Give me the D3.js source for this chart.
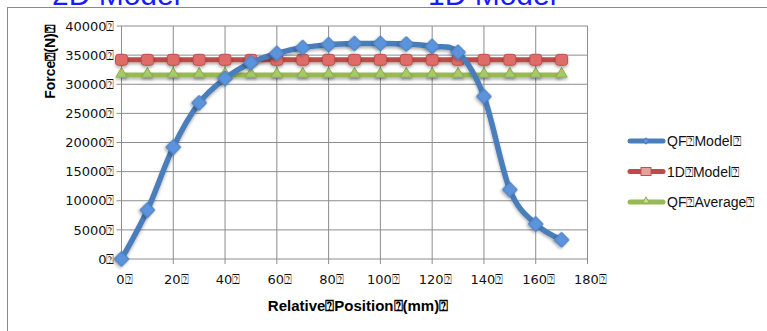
<!DOCTYPE html>
<html>
<head>
<meta charset="utf-8">
<script src="https://cdn.jsdelivr.net/npm/d3@7"></script>
<style>
  body { margin: 0; background: #fff; }
  svg { display: block; font-family: "DejaVu Sans", Verdana, sans-serif; }
</style>
</head>
<body>
<div id="chart"></div>
<script>
// data
const positions = [0, 10, 20, 30, 40, 50, 60, 70, 80, 90, 100, 110, 120, 130, 140, 150, 160, 170];
const qfModel = [0, 8400, 19200, 26800, 31000, 33700, 35300, 36300, 36800, 37000, 37000, 36900, 36500, 35500, 27900, 11900, 6000, 3300];
const oneDModel = [34200, 34200, 34200, 34200, 34200, 34200, 34200, 34200, 34200, 34200, 34200, 34200, 34200, 34200, 34200, 34200, 34200, 34200];
const qfAverage = [31600, 31600, 31600, 31600, 31600, 31600, 31600, 31600, 31600, 31600, 31600, 31600, 31600, 31600, 31600, 31600, 31600, 31600];
const xTicks = [0, 20, 40, 60, 80, 100, 120, 140, 160, 180];
const yTicks = [0, 5000, 10000, 15000, 20000, 25000, 30000, 35000, 40000];
const seriesNames = ['QF\u2370Model\u2370', '1D\u2370Model\u2370', 'QF\u2370Average\u2370'];
const Q = '\u2370';

const W = 767, H = 331;
const margin = { left: 121.5, top: 26, right: W - 587.5, bottom: H - 259 };

const svg = d3.select('#chart').append('svg')
  .attr('width', W)
  .attr('height', H);

// soft shadow like excel (user space so flat lines keep it)
const defs = svg.append('defs');
const f = defs.append('filter').attr('id', 'shadow')
  .attr('filterUnits', 'userSpaceOnUse')
  .attr('x', -50).attr('y', -50).attr('width', W + 100).attr('height', H + 100);
f.append('feDropShadow')
  .attr('dx', 0).attr('dy', 2).attr('stdDeviation', 1.5)
  .attr('flood-color', '#000').attr('flood-opacity', 0.3);

// clipped slide text above / below
svg.append('text').attr('x', 52).attr('y', 5).attr('fill', '#1a1aff')
  .attr('font-size', 30).attr('font-family', 'Liberation Sans, Arial').text('2D Model');
svg.append('text').attr('x', 428).attr('y', 5).attr('fill', '#1a1aff')
  .attr('font-size', 30).attr('font-family', 'Liberation Sans, Arial').text('1D Model');
svg.append('text').attr('x', 195).attr('y', 350).attr('fill', '#1a1aff')
  .attr('font-size', 28).attr('font-family', 'Liberation Sans, Arial').text('Working Stroke Limitations');

// chart frame
svg.append('rect')
  .attr('x', 7.5).attr('y', 7.5)
  .attr('width', W + 10).attr('height', H + 10)
  .attr('fill', '#fff')
  .attr('stroke', '#8a8a8a')
  .attr('stroke-width', 1);

const g = svg.append('g')
  .attr('transform', `translate(${margin.left},${margin.top})`);

const iw = W - margin.left - margin.right;
const ih = H - margin.top - margin.bottom;

const x = d3.scaleLinear().domain([0, 180]).range([0, iw]);
const y = d3.scaleLinear().domain([0, 40000]).range([ih, 0]);

// grid
g.selectAll('.hgrid').data(yTicks).join('line')
  .attr('x1', -5).attr('x2', iw)
  .attr('y1', d => y(d)).attr('y2', d => y(d))
  .attr('stroke', '#8c8c8c').attr('stroke-width', 1);
g.selectAll('.vgrid').data(xTicks).join('line')
  .attr('x1', d => x(d)).attr('x2', d => x(d))
  .attr('y1', 0).attr('y2', ih + 5)
  .attr('stroke', '#8c8c8c').attr('stroke-width', 1);

// tick labels
g.selectAll('.ylab').data(yTicks).join('text')
  .attr('x', -7).attr('y', d => y(d))
  .attr('dy', '0.36em')
  .attr('text-anchor', 'end')
  .attr('font-size', 13)
  .attr('fill', '#111')
  .text(d => d + Q);
g.selectAll('.xlab').data(xTicks).join('text')
  .attr('x', d => x(d) + 3).attr('y', ih + 20)
  .attr('dy', '0.36em')
  .attr('text-anchor', 'middle')
  .attr('font-size', 13)
  .attr('fill', '#111')
  .text(d => d + Q);

// axis titles
svg.append('text')
  .attr('transform', 'translate(55,62) rotate(-90)')
  .attr('text-anchor', 'middle')
  .attr('font-size', 14)
  .attr('font-weight', 'bold')
  .attr('font-family', 'Liberation Sans, Arial')
  .text('Force' + Q + '(N)' + Q);
svg.append('text')
  .attr('x', 358).attr('y', 311)
  .attr('text-anchor', 'middle')
  .attr('font-size', 15)
  .attr('font-weight', 'bold')
  .attr('font-family', 'Liberation Sans, Arial')
  .text('Relative' + Q + 'Position' + Q + '(mm)' + Q);

const straight = d3.line().x((d, i) => x(positions[i])).y(d => y(d));
const smooth = d3.line().x((d, i) => x(positions[i])).y(d => y(d))
  .curve(d3.curveCatmullRom.alpha(0));

const square = d3.symbol().type(d3.symbolSquare).size(110);
const tri = d3.symbol().type(d3.symbolTriangle).size(55);

// green average
g.append('path').datum(qfAverage)
  .attr('d', straight)
  .attr('fill', 'none').attr('stroke', '#98b954').attr('stroke-width', 5)
  .attr('filter', 'url(#shadow)');
g.selectAll('.gm').data(qfAverage).join('path')
  .attr('transform', (d, i) => `translate(${x(positions[i])},${y(d) - 1})`)
  .attr('d', tri)
  .attr('fill', '#a6c96a').attr('stroke', '#8db04a').attr('stroke-width', 1)
  .attr('filter', 'url(#shadow)');

// red 1D model
g.append('path').datum(oneDModel)
  .attr('d', straight)
  .attr('fill', 'none').attr('stroke', '#be4b48').attr('stroke-width', 5)
  .attr('filter', 'url(#shadow)');
g.selectAll('.rm').data(oneDModel).join('rect')
  .attr('x', (d, i) => x(positions[i]) - 6)
  .attr('y', d => y(d) - 5.5)
  .attr('width', 12).attr('height', 11)
  .attr('rx', 3)
  .attr('fill', '#e06c69').attr('stroke', '#c0504d').attr('stroke-width', 1)
  .attr('filter', 'url(#shadow)');

// blue QF model
g.append('path').datum(qfModel)
  .attr('d', smooth)
  .attr('fill', 'none').attr('stroke', '#4a7ebb').attr('stroke-width', 5.5)
  .attr('stroke-linejoin', 'round')
  .attr('filter', 'url(#shadow)');
g.selectAll('.bm').data(qfModel).join('path')
  .attr('transform', (d, i) => `translate(${x(positions[i])},${y(d)}) rotate(45)`)
  .attr('d', square)
  .attr('fill', '#5b93dd').attr('stroke', '#4a7ebb').attr('stroke-width', 1)
  .attr('filter', 'url(#shadow)');

// legend
const legColors = ['#4a7ebb', '#be4b48', '#98b954'];
const leg = svg.append('g').attr('transform', 'translate(628,141)');
seriesNames.forEach((name, i) => {
  const row = leg.append('g').attr('transform', `translate(0,${i * 30.5})`);
  row.append('line')
    .attr('x1', 2).attr('x2', 35).attr('y1', 0).attr('y2', 0)
    .attr('stroke', legColors[i]).attr('stroke-width', 5)
    .attr('stroke-linecap', 'round');
  if (i === 0) {
    row.append('path').attr('transform', 'translate(18,0) rotate(45)')
      .attr('d', d3.symbol().type(d3.symbolSquare).size(18))
      .attr('fill', '#5b93dd').attr('stroke', '#4a7ebb');
  } else if (i === 1) {
    row.append('rect').attr('x', 13).attr('y', -4).attr('width', 10).attr('height', 8)
      .attr('fill', '#e8a09e').attr('stroke', '#c0504d');
  } else {
    row.append('path').attr('transform', 'translate(18,-1)')
      .attr('d', d3.symbol().type(d3.symbolTriangle).size(22))
      .attr('fill', '#c6dd9e').attr('stroke', '#8db04a');
  }
  row.append('text')
    .attr('x', 39).attr('y', 0).attr('dy', '0.36em')
    .attr('font-size', 14)
    .attr('font-family', 'Liberation Sans, Arial')
    .attr('fill', '#111')
    .text(name);
});
</script>
</body>
</html>
